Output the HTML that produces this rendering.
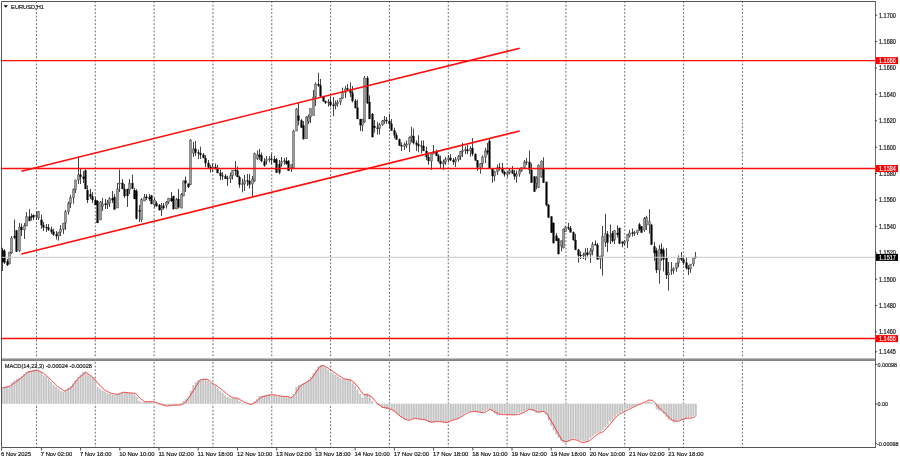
<!DOCTYPE html><html><head><meta charset="utf-8"><title>EURUSD,H1</title><style>html,body{margin:0;padding:0;background:#fff;}svg{display:block;}text{font-family:"Liberation Sans",Arial,sans-serif;}</style></head><body>
<svg width="900" height="460" viewBox="0 0 900 460">
<rect x="0" y="0" width="900" height="460" fill="#fff"/>
<path d="M36.45 2V358M95.28 2V358M154.11 2V358M212.94 2V358M271.77 2V358M330.6 2V358M389.43 2V358M448.26 2V358M507.09 2V358M565.92 2V358M624.75 2V358M683.58 2V358M742.41 2V358" stroke="#666" stroke-width="1" stroke-dasharray="1.84 1.84" stroke-dashoffset="0.92" fill="none"/>
<path d="M36.45 361V447M95.28 361V447M154.11 361V447M212.94 361V447M271.77 361V447M330.6 361V447M389.43 361V447M448.26 361V447M507.09 361V447M565.92 361V447M624.75 361V447M683.58 361V447M742.41 361V447" stroke="#666" stroke-width="1" stroke-dasharray="1.84 1.84" stroke-dashoffset="2.80" fill="none"/>
<path d="M2.50 247.80V271.00M4.50 249.00V264.00M7.50 259.00V266.00M9.50 252.00V264.00M11.50 236.00V254.00M14.50 219.50V239.00M16.50 230.00V252.00M19.50 223.00V252.00M21.50 223.50V236.00M24.50 223.00V239.00M26.50 212.00V226.00M29.50 209.00V221.00M31.50 213.50V220.50M33.50 214.50V220.00M36.50 212.00V220.00M38.50 211.00V220.00M41.50 214.60V228.70M43.50 222.00V231.00M46.50 224.00V232.00M48.50 224.00V231.00M51.50 226.50V234.00M53.50 228.70V236.00M56.50 231.00V239.60M58.50 232.00V240.60M60.50 225.00V236.00M63.50 223.00V234.00M65.50 210.00V230.00M68.50 201.50V214.60M70.50 195.00V208.00M73.50 188.50V203.70M75.50 180.00V193.00M78.50 157.00V184.00M80.50 169.00V184.00M83.50 171.00V183.00M85.50 169.50V189.00M87.50 185.50V203.00M90.50 189.00V199.00M92.50 192.00V203.00M95.50 197.00V205.00M97.50 200.00V223.00M100.50 201.00V220.00M102.50 198.00V211.00M105.50 199.00V209.00M107.50 200.00V209.00M109.50 197.00V207.00M112.50 191.00V203.00M114.50 194.00V209.00M117.50 183.00V199.00M119.50 169.60V192.00M122.50 179.00V189.00M124.50 184.00V198.00M127.50 189.00V207.00M129.50 179.00V194.00M132.50 174.50V189.00M134.50 188.00V195.00M136.50 189.00V219.50M139.50 205.00V222.00M141.50 198.00V222.00M144.50 194.00V201.00M146.50 194.00V200.00M149.50 194.00V201.00M151.50 195.00V204.00M154.50 198.00V207.50M156.50 201.00V206.50M159.50 204.00V210.60M161.50 203.00V216.00M163.50 203.00V209.50M166.50 201.00V208.50M168.50 198.00V204.00M171.50 192.00V202.00M173.50 196.00V209.50M176.50 198.00V208.50M178.50 189.00V208.50M181.50 193.00V208.50M183.50 180.60V196.00M185.50 176.50V192.00M188.50 183.70V188.00M190.50 139.00V185.00M193.50 142.00V157.00M195.50 141.00V156.00M198.50 149.50V159.00M200.50 146.70V159.00M203.50 153.00V158.00M205.50 155.00V167.00M208.50 160.00V168.00M210.50 165.00V172.60M212.50 163.50V172.00M215.50 163.50V169.60M217.50 165.00V173.00M220.50 169.60V180.00M222.50 172.00V180.00M225.50 174.00V178.70M227.50 175.70V186.00M230.50 172.60V183.00M232.50 170.00V179.50M235.50 161.00V175.70M237.50 166.50V177.00M239.50 175.70V187.80M242.50 178.70V192.40M244.50 175.00V191.00M247.50 174.00V186.00M249.50 174.00V188.60M252.50 176.00V196.00M254.50 152.60V182.00M257.50 150.40V160.00M259.50 149.00V160.00M261.50 152.60V162.40M264.50 158.00V166.70M266.50 156.00V164.60M269.50 156.00V162.40M271.50 153.70V164.60M274.50 156.00V162.40M276.50 158.00V173.00M279.50 160.00V174.30M281.50 157.00V166.70M284.50 158.00V164.60M286.50 157.00V164.60M288.50 160.00V171.00M291.50 164.60V172.00M293.50 129.80V169.00M296.50 108.00V131.00M298.50 102.60V125.40M301.50 119.00V127.60M303.50 121.00V139.60M306.50 116.00V139.00M308.50 114.60V124.00M310.50 108.50V123.00M313.50 90.00V115.40M315.50 82.40V106.00M318.50 72.80V86.70M320.50 79.00V97.00M323.50 96.30V101.50M325.50 100.60V104.00M328.50 99.00V106.70M330.50 96.30V106.70M333.50 97.00V116.30M335.50 100.60V109.30M337.50 99.80V106.70M340.50 98.00V105.00M342.50 87.60V99.00M345.50 85.90V98.00M347.50 84.00V91.00M350.50 82.40V97.00M352.50 86.00V102.40M355.50 99.00V108.50M357.50 99.80V119.00M360.50 119.00V131.00M362.50 119.00V131.50M364.50 76.00V123.00M367.50 76.00V104.00M369.50 95.40V119.00M372.50 113.00V137.50M374.50 120.00V132.60M377.50 121.90V134.60M379.50 122.80V134.60M382.50 120.00V125.80M384.50 116.00V123.80M386.50 117.00V123.80M389.50 114.00V128.70M391.50 119.00V130.70M394.50 127.70V138.50M396.50 132.60V139.50M399.50 138.50V146.00M401.50 142.40V151.00M404.50 142.40V150.00M406.50 140.50V148.00M409.50 136.50V152.00M411.50 126.80V142.40M413.50 128.70V144.40M416.50 140.50V151.00M418.50 135.30V152.30M421.50 140.40V153.40M423.50 140.40V151.00M426.50 146.50V160.00M428.50 152.60V164.80M431.50 154.00V170.00M433.50 145.00V154.00M436.50 149.60V155.70M438.50 154.00V162.50M440.50 155.70V168.60M443.50 159.50V170.00M445.50 157.00V164.80M448.50 155.00V162.50M450.50 154.00V161.00M453.50 158.00V164.80M455.50 157.00V167.00M458.50 155.00V161.70M460.50 151.00V160.00M462.50 142.70V157.00M465.50 146.50V154.00M467.50 145.00V154.00M470.50 146.40V156.70M472.50 138.00V156.00M475.50 153.50V160.40M477.50 160.00V170.70M480.50 163.00V173.70M482.50 155.40V167.60M485.50 147.80V163.00M487.50 143.00V154.70M489.50 138.70V169.00M492.50 169.00V182.80M494.50 170.70V181.30M497.50 164.60V175.00M499.50 163.00V170.70M502.50 163.00V173.70M504.50 170.70V176.70M507.50 171.40V177.50M509.50 169.00V174.50M512.50 166.00V173.70M514.50 170.00V179.80M516.50 170.70V182.80M519.50 169.00V176.70M521.50 167.60V172.00M524.50 160.00V167.60M526.50 158.00V165.00M529.50 150.50V174.00M531.50 163.30V182.80M534.50 176.30V192.00M536.50 176.30V189.30M538.50 164.60V188.00M541.50 160.60V177.60M543.50 157.40V182.80M546.50 181.50V206.40M548.50 204.00V217.80M551.50 216.30V233.00M553.50 222.40V243.70M556.50 233.00V240.70M558.50 238.40V254.40M561.50 240.70V251.30M563.50 228.50V248.30M565.50 226.00V231.50M568.50 223.00V230.00M570.50 226.00V232.30M573.50 231.50V240.70M575.50 233.80V249.80M578.50 249.00V262.70M580.50 251.30V259.00M583.50 252.80V259.00M585.50 248.20V260.20M587.50 248.00V256.50M590.50 248.20V263.00M592.50 242.00V255.40M595.50 240.40V245.00M597.50 243.00V260.00M600.50 256.00V269.00M602.50 226.00V275.60M605.50 213.90V247.00M607.50 231.00V252.00M610.50 224.50V244.00M612.50 231.00V242.40M614.50 230.00V244.00M617.50 225.30V237.50M619.50 227.70V244.00M622.50 241.60V247.30M624.50 240.00V245.70M627.50 234.00V248.00M629.50 230.00V237.50M632.50 228.50V236.70M634.50 231.00V236.00M637.50 230.00V235.00M639.50 222.80V231.00M641.50 226.00V232.60M644.50 217.00V231.80M646.50 215.70V230.00M649.50 209.20V233.70M651.50 223.80V245.20M654.50 242.00V260.70M656.50 247.80V273.00M659.50 245.00V283.70M661.50 243.40V261.00M663.50 247.60V271.50M666.50 248.20V279.00M668.50 262.00V290.60M671.50 262.00V275.00M673.50 267.40V274.00M676.50 263.00V271.70M678.50 255.40V267.40M681.50 252.00V261.00M683.50 256.50V265.00M686.50 257.60V269.60M688.50 265.00V275.00M690.50 264.00V272.80M693.50 257.60V266.30M695.50 252.00V258.70" stroke="#222" stroke-width="0.85" fill="none"/>
<path d="M8.60 252.00h1.8V264.00h-1.8zM10.60 238.00h1.8V253.00h-1.8zM18.60 227.00h1.8V250.50h-1.8zM23.60 225.50h1.8V230.00h-1.8zM25.60 216.50h1.8V226.00h-1.8zM35.60 215.65h1.8V216.38h-1.8zM37.60 211.50h1.8V218.00h-1.8zM57.60 232.24h1.8V236.00h-1.8zM59.60 229.10h1.8V232.24h-1.8zM62.60 223.00h1.8V229.10h-1.8zM64.60 211.63h1.8V223.00h-1.8zM67.60 203.46h1.8V211.63h-1.8zM69.60 197.72h1.8V203.46h-1.8zM72.60 189.38h1.8V197.72h-1.8zM74.60 180.00h1.8V189.38h-1.8zM77.60 174.70h1.8V180.00h-1.8zM99.60 202.00h1.8V220.00h-1.8zM101.60 204.15h1.8V206.30h-1.8zM106.60 202.75h1.8V204.35h-1.8zM108.60 198.50h1.8V202.75h-1.8zM116.60 189.00h1.8V208.00h-1.8zM118.60 183.04h1.8V183.86h-1.8zM128.60 183.17h1.8V189.95h-1.8zM140.60 199.50h1.8V219.50h-1.8zM143.60 197.15h1.8V201.00h-1.8zM153.60 200.00h1.8V205.00h-1.8zM160.60 207.70h1.8V210.00h-1.8zM165.60 202.12h1.8V205.20h-1.8zM167.60 198.20h1.8V202.12h-1.8zM175.60 199.40h1.8V209.00h-1.8zM180.60 194.50h1.8V208.00h-1.8zM182.60 181.00h1.8V196.00h-1.8zM189.60 140.00h1.8V184.50h-1.8zM192.60 148.80h1.8V153.25h-1.8zM211.60 166.91h1.8V168.06h-1.8zM229.60 175.66h1.8V178.71h-1.8zM231.60 170.27h1.8V175.66h-1.8zM241.60 183.76h1.8V184.41h-1.8zM243.60 180.90h1.8V183.76h-1.8zM251.60 179.00h1.8V184.00h-1.8zM253.60 153.50h1.8V181.00h-1.8zM256.60 154.71h1.8V158.83h-1.8zM265.60 159.53h1.8V160.91h-1.8zM268.60 158.86h1.8V159.83h-1.8zM280.60 161.47h1.8V163.44h-1.8zM283.60 160.65h1.8V161.77h-1.8zM290.60 164.60h1.8V167.46h-1.8zM292.60 131.00h1.8V168.00h-1.8zM295.60 109.00h1.8V131.00h-1.8zM305.60 117.00h1.8V138.50h-1.8zM307.60 116.81h1.8V121.76h-1.8zM309.60 108.50h1.8V116.81h-1.8zM312.60 97.00h1.8V115.50h-1.8zM314.60 84.08h1.8V96.75h-1.8zM327.60 101.91h1.8V102.68h-1.8zM334.60 103.76h1.8V105.46h-1.8zM336.60 102.02h1.8V103.76h-1.8zM339.60 98.00h1.8V102.02h-1.8zM341.60 92.35h1.8V98.00h-1.8zM344.60 88.83h1.8V92.35h-1.8zM361.60 119.00h1.8V125.17h-1.8zM363.60 78.00h1.8V122.00h-1.8zM378.60 124.64h1.8V128.56h-1.8zM381.60 120.80h1.8V124.64h-1.8zM383.60 119.95h1.8V121.10h-1.8zM403.60 144.83h1.8V146.35h-1.8zM405.60 143.95h1.8V145.13h-1.8zM408.60 137.49h1.8V144.25h-1.8zM410.60 135.97h1.8V137.49h-1.8zM430.60 154.00h1.8V161.01h-1.8zM432.60 151.70h1.8V154.00h-1.8zM442.60 162.06h1.8V163.97h-1.8zM444.60 159.40h1.8V162.06h-1.8zM447.60 157.88h1.8V159.40h-1.8zM454.60 159.44h1.8V161.82h-1.8zM457.60 156.35h1.8V159.44h-1.8zM459.60 151.54h1.8V156.35h-1.8zM461.60 150.13h1.8V151.54h-1.8zM464.60 149.42h1.8V150.43h-1.8zM469.60 148.37h1.8V150.94h-1.8zM479.60 163.56h1.8V167.45h-1.8zM481.60 157.23h1.8V163.56h-1.8zM484.60 150.81h1.8V157.23h-1.8zM493.60 171.66h1.8V175.97h-1.8zM496.60 167.73h1.8V171.66h-1.8zM506.60 172.56h1.8V174.22h-1.8zM508.60 170.42h1.8V172.56h-1.8zM515.60 174.02h1.8V176.19h-1.8zM518.60 170.72h1.8V174.02h-1.8zM520.60 167.60h1.8V170.72h-1.8zM523.60 162.19h1.8V167.60h-1.8zM525.60 161.72h1.8V162.49h-1.8zM535.60 178.25h1.8V183.20h-1.8zM537.60 165.00h1.8V187.50h-1.8zM540.60 161.00h1.8V177.00h-1.8zM560.60 240.70h1.8V246.12h-1.8zM562.60 229.00h1.8V248.00h-1.8zM564.60 227.17h1.8V231.50h-1.8zM582.60 254.71h1.8V255.68h-1.8zM584.60 252.83h1.8V254.71h-1.8zM589.60 250.77h1.8V254.59h-1.8zM591.60 244.50h1.8V250.77h-1.8zM599.60 256.00h1.8V259.20h-1.8zM601.60 236.55h1.8V256.00h-1.8zM604.60 233.50h1.8V242.00h-1.8zM609.60 235.66h1.8V236.73h-1.8zM613.60 230.50h1.8V239.80h-1.8zM623.60 241.55h1.8V243.33h-1.8zM626.60 234.30h1.8V241.00h-1.8zM628.60 232.94h1.8V235.93h-1.8zM633.60 232.50h1.8V233.53h-1.8zM636.60 230.00h1.8V232.80h-1.8zM643.60 218.50h1.8V230.00h-1.8zM645.60 217.50h1.8V225.00h-1.8zM648.60 221.50h1.8V224.50h-1.8zM658.60 249.00h1.8V270.00h-1.8zM667.60 272.50h1.8V275.00h-1.8zM670.60 270.04h1.8V270.84h-1.8zM672.60 268.36h1.8V270.04h-1.8zM675.60 263.18h1.8V268.36h-1.8zM677.60 257.97h1.8V263.18h-1.8zM689.60 264.00h1.8V268.88h-1.8zM692.60 257.60h1.8V264.00h-1.8zM694.60 256.80h1.8V257.60h-1.8z" fill="#a8a8a8" stroke="#2a2a2a" stroke-width="0.5"/>
<path d="M1.60 250.00h1.8V262.00h-1.8zM3.60 251.00h1.8V262.50h-1.8zM6.60 261.50h1.8V265.00h-1.8zM13.60 236.00h1.8V237.47h-1.8zM15.60 230.50h1.8V251.50h-1.8zM20.60 227.00h1.8V230.00h-1.8zM28.60 216.70h1.8V221.00h-1.8zM30.60 216.40h1.8V217.17h-1.8zM32.60 215.00h1.8V217.20h-1.8zM40.60 219.80h1.8V225.04h-1.8zM42.60 225.04h1.8V227.55h-1.8zM45.60 227.25h1.8V227.95h-1.8zM47.60 227.65h1.8V229.42h-1.8zM50.60 229.42h1.8V231.72h-1.8zM52.60 231.72h1.8V234.42h-1.8zM55.60 234.42h1.8V236.00h-1.8zM79.60 174.70h1.8V176.85h-1.8zM82.60 176.85h1.8V178.57h-1.8zM84.60 170.50h1.8V189.00h-1.8zM86.60 190.00h1.8V200.00h-1.8zM89.60 194.07h1.8V196.45h-1.8zM91.60 196.45h1.8V199.95h-1.8zM94.60 199.95h1.8V205.00h-1.8zM96.60 201.00h1.8V223.00h-1.8zM104.60 203.85h1.8V204.65h-1.8zM111.60 198.50h1.8V200.15h-1.8zM113.60 197.00h1.8V209.50h-1.8zM121.60 183.04h1.8V188.90h-1.8zM123.60 188.90h1.8V195.90h-1.8zM126.60 189.00h1.8V196.00h-1.8zM131.60 183.17h1.8V188.57h-1.8zM133.60 190.00h1.8V199.00h-1.8zM135.60 191.00h1.8V218.50h-1.8zM138.60 210.42h1.8V211.35h-1.8zM145.60 196.85h1.8V197.65h-1.8zM148.60 197.35h1.8V198.90h-1.8zM150.60 195.50h1.8V204.00h-1.8zM155.60 203.45h1.8V206.23h-1.8zM158.60 205.00h1.8V210.00h-1.8zM162.60 205.70h1.8V208.00h-1.8zM170.60 198.20h1.8V201.02h-1.8zM172.60 196.00h1.8V209.00h-1.8zM177.60 199.00h1.8V207.20h-1.8zM184.60 180.50h1.8V183.20h-1.8zM187.60 183.70h1.8V187.00h-1.8zM194.60 148.80h1.8V152.52h-1.8zM197.60 152.52h1.8V153.27h-1.8zM199.60 153.27h1.8V154.70h-1.8zM202.60 154.70h1.8V158.00h-1.8zM204.60 158.00h1.8V163.10h-1.8zM207.60 163.10h1.8V167.36h-1.8zM209.60 167.36h1.8V168.06h-1.8zM214.60 166.91h1.8V168.26h-1.8zM216.60 168.26h1.8V173.00h-1.8zM219.60 173.00h1.8V175.64h-1.8zM221.60 175.64h1.8V176.25h-1.8zM224.60 176.25h1.8V178.70h-1.8zM226.60 178.40h1.8V179.01h-1.8zM234.60 169.97h1.8V171.03h-1.8zM236.60 170.73h1.8V177.00h-1.8zM238.60 177.00h1.8V184.41h-1.8zM246.60 180.60h1.8V181.21h-1.8zM248.60 180.91h1.8V184.59h-1.8zM258.60 154.71h1.8V156.60h-1.8zM260.60 155.60h1.8V161.00h-1.8zM263.60 161.50h1.8V165.40h-1.8zM270.60 158.86h1.8V159.48h-1.8zM273.60 159.18h1.8V162.40h-1.8zM275.60 159.60h1.8V172.60h-1.8zM278.60 164.00h1.8V172.60h-1.8zM285.60 160.95h1.8V164.09h-1.8zM287.60 161.00h1.8V170.70h-1.8zM297.60 115.65h1.8V120.51h-1.8zM300.60 120.51h1.8V127.60h-1.8zM302.60 125.50h1.8V139.00h-1.8zM317.60 84.08h1.8V85.52h-1.8zM319.60 85.52h1.8V96.30h-1.8zM322.60 96.30h1.8V101.28h-1.8zM324.60 101.28h1.8V102.68h-1.8zM329.60 101.91h1.8V105.11h-1.8zM332.60 104.81h1.8V105.76h-1.8zM346.60 88.53h1.8V89.34h-1.8zM349.60 89.04h1.8V92.85h-1.8zM351.60 92.85h1.8V100.89h-1.8zM354.60 100.89h1.8V107.70h-1.8zM356.60 107.70h1.8V119.00h-1.8zM359.60 119.00h1.8V125.17h-1.8zM366.60 78.00h1.8V103.00h-1.8zM368.60 102.04h1.8V119.00h-1.8zM371.60 114.00h1.8V137.00h-1.8zM373.60 125.98h1.8V127.66h-1.8zM376.60 127.66h1.8V128.56h-1.8zM385.60 120.25h1.8V121.06h-1.8zM388.60 121.06h1.8V123.80h-1.8zM390.60 123.80h1.8V130.62h-1.8zM393.60 130.62h1.8V135.16h-1.8zM395.60 135.16h1.8V139.50h-1.8zM398.60 139.50h1.8V145.36h-1.8zM400.60 145.36h1.8V146.35h-1.8zM412.60 135.97h1.8V142.99h-1.8zM415.60 142.99h1.8V144.38h-1.8zM417.60 144.38h1.8V145.97h-1.8zM420.60 145.67h1.8V146.36h-1.8zM422.60 146.06h1.8V150.98h-1.8zM425.60 150.98h1.8V157.06h-1.8zM427.60 157.06h1.8V161.01h-1.8zM435.60 151.70h1.8V155.70h-1.8zM437.60 155.70h1.8V160.98h-1.8zM439.60 160.98h1.8V163.97h-1.8zM449.60 157.88h1.8V160.23h-1.8zM452.60 160.23h1.8V161.82h-1.8zM466.60 149.72h1.8V150.94h-1.8zM471.60 148.37h1.8V153.96h-1.8zM474.60 153.96h1.8V160.40h-1.8zM476.60 160.40h1.8V167.45h-1.8zM486.60 150.81h1.8V152.35h-1.8zM488.60 141.00h1.8V168.00h-1.8zM491.60 169.00h1.8V175.97h-1.8zM498.60 167.43h1.8V168.20h-1.8zM501.60 167.90h1.8V172.09h-1.8zM503.60 172.09h1.8V174.22h-1.8zM511.60 170.42h1.8V173.38h-1.8zM513.60 173.38h1.8V176.19h-1.8zM528.60 162.02h1.8V169.81h-1.8zM530.60 170.00h1.8V182.50h-1.8zM533.60 176.50h1.8V191.50h-1.8zM542.60 168.50h1.8V182.50h-1.8zM545.60 182.00h1.8V205.00h-1.8zM547.60 205.00h1.8V217.50h-1.8zM550.60 216.50h1.8V232.50h-1.8zM552.60 223.00h1.8V243.00h-1.8zM555.60 235.71h1.8V240.70h-1.8zM557.60 238.50h1.8V254.00h-1.8zM567.60 227.17h1.8V228.36h-1.8zM569.60 228.36h1.8V232.30h-1.8zM572.60 232.30h1.8V240.09h-1.8zM574.60 240.09h1.8V249.80h-1.8zM577.60 249.80h1.8V255.36h-1.8zM579.60 255.06h1.8V255.98h-1.8zM586.60 252.83h1.8V254.59h-1.8zM594.60 244.20h1.8V245.30h-1.8zM596.60 245.00h1.8V259.20h-1.8zM606.60 234.30h1.8V242.50h-1.8zM611.60 233.30h1.8V241.00h-1.8zM616.60 233.08h1.8V234.51h-1.8zM618.60 228.00h1.8V243.50h-1.8zM621.60 241.87h1.8V243.33h-1.8zM631.60 232.64h1.8V233.53h-1.8zM638.60 224.50h1.8V229.30h-1.8zM640.60 226.50h1.8V232.60h-1.8zM650.60 225.00h1.8V244.50h-1.8zM653.60 246.40h1.8V253.00h-1.8zM655.60 250.60h1.8V270.00h-1.8zM660.60 249.00h1.8V253.50h-1.8zM662.60 250.00h1.8V259.50h-1.8zM665.60 258.00h1.8V275.00h-1.8zM680.60 257.97h1.8V259.47h-1.8zM682.60 259.47h1.8V262.75h-1.8zM685.60 262.75h1.8V268.08h-1.8zM687.60 268.08h1.8V268.88h-1.8z" fill="#000" stroke="#000" stroke-width="0.3"/>
<polygon points="0.93,403.7 0.93,389.11 3.33,389.11 3.38,387.19 5.78,387.19 5.83,386.67 8.23,386.67 8.29,386.59 10.69,386.59 10.74,382.58 13.14,382.58 13.19,380.81 15.59,380.81 15.64,379.36 18.04,379.36 18.09,378.09 20.49,378.09 20.54,376.59 22.94,376.59 22.99,374.20 25.39,374.20 25.44,372.24 27.84,372.24 27.90,371.07 30.30,371.07 30.35,370.58 32.75,370.58 32.80,369.78 35.20,369.78 35.25,369.78 37.65,369.78 37.70,370.56 40.10,370.56 40.15,372.03 42.55,372.03 42.60,375.43 45.00,375.43 45.06,376.78 47.46,376.78 47.51,378.74 49.91,378.74 49.96,381.73 52.36,381.73 52.41,384.67 54.81,384.67 54.86,386.63 57.26,386.63 57.31,389.03 59.71,389.03 59.76,390.99 62.16,390.99 62.21,391.63 64.61,391.63 64.67,390.65 67.07,390.65 67.12,387.80 69.52,387.80 69.57,386.32 71.97,386.32 72.02,383.48 74.42,383.48 74.47,380.06 76.87,380.06 76.92,376.93 79.32,376.93 79.37,374.43 81.77,374.43 81.82,371.98 84.22,371.98 84.28,371.67 86.68,371.67 86.73,374.53 89.13,374.53 89.18,376.00 91.58,376.00 91.63,377.81 94.03,377.81 94.08,379.28 96.48,379.28 96.53,387.06 98.93,387.06 98.98,389.15 101.38,389.15 101.44,390.48 103.84,390.48 103.89,391.94 106.29,391.94 106.34,393.21 108.74,393.21 108.79,393.78 111.19,393.78 111.24,394.83 113.64,394.83 113.69,395.25 116.09,395.25 116.14,394.62 118.54,394.62 118.59,393.23 120.99,393.23 121.05,392.36 123.45,392.36 123.50,392.22 125.90,392.22 125.95,392.54 128.35,392.54 128.40,393.09 130.80,393.09 130.85,393.33 133.25,393.33 133.30,394.50 135.70,394.50 135.75,397.30 138.15,397.30 138.20,400.77 140.60,400.77 140.66,401.89 143.06,401.89 143.11,401.82 145.51,401.82 145.56,401.67 147.96,401.67 148.01,401.67 150.41,401.67 150.46,401.67 152.86,401.67 152.91,402.20 155.31,402.20 155.36,403.28 157.76,403.28 157.81,404.38 160.21,404.38 160.27,405.11 162.67,405.11 162.72,405.33 165.12,405.33 165.17,405.33 167.57,405.33 167.62,405.33 170.02,405.33 170.07,405.33 172.47,405.33 172.52,405.27 174.92,405.27 174.97,405.18 177.37,405.18 177.43,404.86 179.83,404.86 179.88,403.37 182.28,403.37 182.33,400.96 184.73,400.96 184.78,398.99 187.18,398.99 187.23,397.03 189.63,397.03 189.68,390.69 192.08,390.69 192.13,385.00 194.53,385.00 194.58,382.06 196.98,382.06 197.04,380.07 199.44,380.07 199.49,379.41 201.89,379.41 201.94,378.89 204.34,378.89 204.39,379.24 206.79,379.24 206.84,380.77 209.24,380.77 209.29,382.73 211.69,382.73 211.74,384.51 214.14,384.51 214.19,385.49 216.59,385.49 216.65,388.40 219.05,388.40 219.10,390.85 221.50,390.85 221.55,392.76 223.95,392.76 224.00,395.16 226.40,395.16 226.45,397.12 228.85,397.12 228.90,397.80 231.30,397.80 231.35,398.29 233.75,398.29 233.81,398.33 236.21,398.33 236.26,398.82 238.66,398.82 238.71,401.02 241.11,401.02 241.16,403.00 243.56,403.00 243.61,403.98 246.01,403.98 246.06,404.34 248.46,404.34 248.51,404.39 250.91,404.39 250.96,404.23 253.36,404.23 253.42,401.50 255.82,401.50 255.87,399.04 258.27,399.04 258.32,396.11 260.72,396.11 260.77,396.11 263.17,396.11 263.22,395.56 265.62,395.56 265.67,395.36 268.07,395.36 268.12,394.70 270.52,394.70 270.57,394.95 272.97,394.95 273.03,395.00 275.43,395.00 275.48,396.11 277.88,396.11 277.93,396.41 280.33,396.41 280.38,396.66 282.78,396.66 282.83,396.67 285.23,396.67 285.28,396.67 287.68,396.67 287.73,397.22 290.13,397.22 290.19,397.22 292.59,397.22 292.64,394.51 295.04,394.51 295.09,387.08 297.49,387.08 297.54,385.12 299.94,385.12 299.99,384.40 302.39,384.40 302.44,383.15 304.84,383.15 304.89,381.68 307.29,381.68 307.34,379.75 309.74,379.75 309.80,376.81 312.20,376.81 312.25,373.17 314.65,373.17 314.70,369.74 317.10,369.74 317.15,366.10 319.55,366.10 319.60,365.12 322.00,365.12 322.05,365.00 324.45,365.00 324.50,367.37 326.90,367.37 326.95,369.82 329.35,369.82 329.41,372.24 331.81,372.24 331.86,373.22 334.26,373.22 334.31,374.96 336.71,374.96 336.76,376.44 339.16,376.44 339.21,378.23 341.61,378.23 341.66,378.91 344.06,378.91 344.11,379.40 346.51,379.40 346.57,378.89 348.97,378.89 349.02,379.86 351.42,379.86 351.47,382.64 353.87,382.64 353.92,385.59 356.32,385.59 356.37,389.64 358.77,389.64 358.82,394.04 361.22,394.04 361.27,397.40 363.67,397.40 363.72,394.56 366.12,394.56 366.18,393.52 368.58,393.52 368.63,396.46 371.03,396.46 371.08,401.17 373.48,401.17 373.53,403.62 375.93,403.62 375.98,404.88 378.38,404.88 378.43,405.99 380.83,405.99 380.88,407.40 383.28,407.40 383.33,408.57 385.73,408.57 385.79,408.76 388.19,408.76 388.24,408.69 390.64,408.69 390.69,409.47 393.09,409.47 393.14,411.36 395.54,411.36 395.59,413.46 397.99,413.46 398.04,415.73 400.44,415.73 400.49,417.66 402.89,417.66 402.94,419.17 405.34,419.17 405.40,419.79 407.80,419.79 407.85,419.64 410.25,419.64 410.30,418.78 412.70,418.78 412.75,418.49 415.15,418.49 415.20,418.50 417.60,418.50 417.65,418.89 420.05,418.89 420.10,419.00 422.50,419.00 422.56,419.50 424.96,419.50 425.01,420.49 427.41,420.49 427.46,422.02 429.86,422.02 429.91,422.64 432.31,422.64 432.36,422.00 434.76,422.00 434.81,421.44 437.21,421.44 437.26,421.50 439.66,421.50 439.71,421.76 442.11,421.76 442.17,422.31 444.57,422.31 444.62,422.46 447.02,422.46 447.07,421.85 449.47,421.85 449.52,420.41 451.92,420.41 451.97,419.90 454.37,419.90 454.42,419.32 456.82,419.32 456.87,418.67 459.27,418.67 459.32,416.80 461.72,416.80 461.78,414.85 464.18,414.85 464.23,413.08 466.63,413.08 466.68,411.64 469.08,411.64 469.13,411.11 471.53,411.11 471.58,411.11 473.98,411.11 474.03,411.46 476.43,411.46 476.48,411.66 478.88,411.66 478.94,412.15 481.34,412.15 481.39,412.04 483.79,412.04 483.84,411.20 486.24,411.20 486.29,409.52 488.69,409.52 488.74,408.89 491.14,408.89 491.19,410.17 493.59,410.17 493.64,413.38 496.04,413.38 496.09,414.44 498.49,414.44 498.55,414.44 500.95,414.44 501.00,414.12 503.40,414.12 503.45,413.89 505.85,413.89 505.90,414.20 508.30,414.20 508.35,414.44 510.75,414.44 510.80,414.44 513.20,414.44 513.25,414.16 515.65,414.16 515.70,413.62 518.10,413.62 518.16,413.08 520.56,413.08 520.61,412.28 523.01,412.28 523.06,411.20 525.46,411.20 525.51,409.69 527.91,409.69 527.96,408.89 530.36,408.89 530.41,409.68 532.81,409.68 532.86,411.33 535.26,411.33 535.32,412.46 537.72,412.46 537.77,412.30 540.17,412.30 540.22,411.45 542.62,411.45 542.67,411.77 545.07,411.77 545.12,414.50 547.52,414.50 547.57,420.51 549.97,420.51 550.02,425.85 552.42,425.85 552.47,430.13 554.87,430.13 554.93,434.35 557.33,434.35 557.38,437.87 559.78,437.87 559.83,440.82 562.23,440.82 562.28,442.40 564.68,442.40 564.73,442.59 567.13,442.59 567.18,441.62 569.58,441.62 569.63,439.58 572.03,439.58 572.08,438.68 574.48,438.68 574.54,438.70 576.94,438.70 576.99,440.41 579.39,440.41 579.44,440.47 581.84,440.47 581.89,441.48 584.29,441.48 584.34,441.67 586.74,441.67 586.79,440.73 589.19,440.73 589.24,437.92 591.64,437.92 591.70,435.91 594.10,435.91 594.15,434.05 596.55,434.05 596.60,432.77 599.00,432.77 599.05,431.79 601.45,431.79 601.50,430.06 603.90,430.06 603.95,427.07 606.35,427.07 606.40,424.62 608.80,424.62 608.85,421.62 611.25,421.62 611.31,419.66 613.71,419.66 613.76,417.27 616.16,417.27 616.21,414.81 618.61,414.81 618.66,412.88 621.06,412.88 621.11,411.85 623.51,411.85 623.56,410.67 625.96,410.67 626.01,408.90 628.41,408.90 628.46,407.91 630.86,407.91 630.92,407.25 633.32,407.25 633.37,406.28 635.77,406.28 635.82,405.10 638.22,405.10 638.27,404.55 640.67,404.55 640.72,403.96 643.12,403.96 643.17,403.46 645.57,403.46 645.62,401.97 648.02,401.97 648.07,401.15 650.48,401.15 650.53,402.17 652.93,402.17 652.98,404.61 655.38,404.61 655.43,409.34 657.83,409.34 657.88,410.42 660.28,410.42 660.33,411.14 662.73,411.14 662.78,413.98 665.18,413.98 665.23,416.64 667.63,416.64 667.69,419.67 670.09,419.67 670.14,420.47 672.54,420.47 672.59,422.42 674.99,422.42 675.04,420.95 677.44,420.95 677.49,420.00 679.89,420.00 679.94,420.00 682.34,420.00 682.39,419.72 684.79,419.72 684.84,418.21 687.24,418.21 687.30,417.83 689.70,417.83 689.75,416.93 692.15,416.93 692.20,415.87 694.60,415.87 694.65,414.62 697.05,414.62 697.05,403.7" fill="#e6e6e6"/>
<path d="M1.38 389.11h1.5V403.70h-1.5zM3.83 387.19h1.5V403.70h-1.5zM6.28 386.67h1.5V403.70h-1.5zM8.74 386.59h1.5V403.70h-1.5zM11.19 382.58h1.5V403.70h-1.5zM13.64 380.81h1.5V403.70h-1.5zM16.09 379.36h1.5V403.70h-1.5zM18.54 378.09h1.5V403.70h-1.5zM20.99 376.59h1.5V403.70h-1.5zM23.44 374.20h1.5V403.70h-1.5zM25.89 372.24h1.5V403.70h-1.5zM28.35 371.07h1.5V403.70h-1.5zM30.80 370.58h1.5V403.70h-1.5zM33.25 369.78h1.5V403.70h-1.5zM35.70 369.78h1.5V403.70h-1.5zM38.15 370.56h1.5V403.70h-1.5zM40.60 372.03h1.5V403.70h-1.5zM43.05 375.43h1.5V403.70h-1.5zM45.51 376.78h1.5V403.70h-1.5zM47.96 378.74h1.5V403.70h-1.5zM50.41 381.73h1.5V403.70h-1.5zM52.86 384.67h1.5V403.70h-1.5zM55.31 386.63h1.5V403.70h-1.5zM57.76 389.03h1.5V403.70h-1.5zM60.21 390.99h1.5V403.70h-1.5zM62.66 391.63h1.5V403.70h-1.5zM65.12 390.65h1.5V403.70h-1.5zM67.57 387.80h1.5V403.70h-1.5zM70.02 386.32h1.5V403.70h-1.5zM72.47 383.48h1.5V403.70h-1.5zM74.92 380.06h1.5V403.70h-1.5zM77.37 376.93h1.5V403.70h-1.5zM79.82 374.43h1.5V403.70h-1.5zM82.27 371.98h1.5V403.70h-1.5zM84.73 371.67h1.5V403.70h-1.5zM87.18 374.53h1.5V403.70h-1.5zM89.63 376.00h1.5V403.70h-1.5zM92.08 377.81h1.5V403.70h-1.5zM94.53 379.28h1.5V403.70h-1.5zM96.98 387.06h1.5V403.70h-1.5zM99.43 389.15h1.5V403.70h-1.5zM101.89 390.48h1.5V403.70h-1.5zM104.34 391.94h1.5V403.70h-1.5zM106.79 393.21h1.5V403.70h-1.5zM109.24 393.78h1.5V403.70h-1.5zM111.69 394.83h1.5V403.70h-1.5zM114.14 395.25h1.5V403.70h-1.5zM116.59 394.62h1.5V403.70h-1.5zM119.04 393.23h1.5V403.70h-1.5zM121.50 392.36h1.5V403.70h-1.5zM123.95 392.22h1.5V403.70h-1.5zM126.40 392.54h1.5V403.70h-1.5zM128.85 393.09h1.5V403.70h-1.5zM131.30 393.33h1.5V403.70h-1.5zM133.75 394.50h1.5V403.70h-1.5zM136.20 397.30h1.5V403.70h-1.5zM138.65 400.77h1.5V403.70h-1.5zM141.11 401.89h1.5V403.70h-1.5zM143.56 401.82h1.5V403.70h-1.5zM146.01 401.67h1.5V403.70h-1.5zM148.46 401.67h1.5V403.70h-1.5zM150.91 401.67h1.5V403.70h-1.5zM153.36 402.20h1.5V403.70h-1.5zM155.81 403.28h1.5V403.70h-1.5zM158.26 403.70h1.5V404.38h-1.5zM160.72 403.70h1.5V405.11h-1.5zM163.17 403.70h1.5V405.33h-1.5zM165.62 403.70h1.5V405.33h-1.5zM168.07 403.70h1.5V405.33h-1.5zM170.52 403.70h1.5V405.33h-1.5zM172.97 403.70h1.5V405.27h-1.5zM175.42 403.70h1.5V405.18h-1.5zM177.88 403.70h1.5V404.86h-1.5zM180.33 403.37h1.5V403.70h-1.5zM182.78 400.96h1.5V403.70h-1.5zM185.23 398.99h1.5V403.70h-1.5zM187.68 397.03h1.5V403.70h-1.5zM190.13 390.69h1.5V403.70h-1.5zM192.58 385.00h1.5V403.70h-1.5zM195.03 382.06h1.5V403.70h-1.5zM197.49 380.07h1.5V403.70h-1.5zM199.94 379.41h1.5V403.70h-1.5zM202.39 378.89h1.5V403.70h-1.5zM204.84 379.24h1.5V403.70h-1.5zM207.29 380.77h1.5V403.70h-1.5zM209.74 382.73h1.5V403.70h-1.5zM212.19 384.51h1.5V403.70h-1.5zM214.64 385.49h1.5V403.70h-1.5zM217.10 388.40h1.5V403.70h-1.5zM219.55 390.85h1.5V403.70h-1.5zM222.00 392.76h1.5V403.70h-1.5zM224.45 395.16h1.5V403.70h-1.5zM226.90 397.12h1.5V403.70h-1.5zM229.35 397.80h1.5V403.70h-1.5zM231.80 398.29h1.5V403.70h-1.5zM234.26 398.33h1.5V403.70h-1.5zM236.71 398.82h1.5V403.70h-1.5zM239.16 401.02h1.5V403.70h-1.5zM241.61 403.00h1.5V403.70h-1.5zM244.06 403.70h1.5V403.98h-1.5zM246.51 403.70h1.5V404.34h-1.5zM248.96 403.70h1.5V404.39h-1.5zM251.41 403.70h1.5V404.23h-1.5zM253.87 401.50h1.5V403.70h-1.5zM256.32 399.04h1.5V403.70h-1.5zM258.77 396.11h1.5V403.70h-1.5zM261.22 396.11h1.5V403.70h-1.5zM263.67 395.56h1.5V403.70h-1.5zM266.12 395.36h1.5V403.70h-1.5zM268.57 394.70h1.5V403.70h-1.5zM271.02 394.95h1.5V403.70h-1.5zM273.48 395.00h1.5V403.70h-1.5zM275.93 396.11h1.5V403.70h-1.5zM278.38 396.41h1.5V403.70h-1.5zM280.83 396.66h1.5V403.70h-1.5zM283.28 396.67h1.5V403.70h-1.5zM285.73 396.67h1.5V403.70h-1.5zM288.18 397.22h1.5V403.70h-1.5zM290.64 397.22h1.5V403.70h-1.5zM293.09 394.51h1.5V403.70h-1.5zM295.54 387.08h1.5V403.70h-1.5zM297.99 385.12h1.5V403.70h-1.5zM300.44 384.40h1.5V403.70h-1.5zM302.89 383.15h1.5V403.70h-1.5zM305.34 381.68h1.5V403.70h-1.5zM307.79 379.75h1.5V403.70h-1.5zM310.25 376.81h1.5V403.70h-1.5zM312.70 373.17h1.5V403.70h-1.5zM315.15 369.74h1.5V403.70h-1.5zM317.60 366.10h1.5V403.70h-1.5zM320.05 365.12h1.5V403.70h-1.5zM322.50 365.00h1.5V403.70h-1.5zM324.95 367.37h1.5V403.70h-1.5zM327.40 369.82h1.5V403.70h-1.5zM329.86 372.24h1.5V403.70h-1.5zM332.31 373.22h1.5V403.70h-1.5zM334.76 374.96h1.5V403.70h-1.5zM337.21 376.44h1.5V403.70h-1.5zM339.66 378.23h1.5V403.70h-1.5zM342.11 378.91h1.5V403.70h-1.5zM344.56 379.40h1.5V403.70h-1.5zM347.02 378.89h1.5V403.70h-1.5zM349.47 379.86h1.5V403.70h-1.5zM351.92 382.64h1.5V403.70h-1.5zM354.37 385.59h1.5V403.70h-1.5zM356.82 389.64h1.5V403.70h-1.5zM359.27 394.04h1.5V403.70h-1.5zM361.72 397.40h1.5V403.70h-1.5zM364.17 394.56h1.5V403.70h-1.5zM366.63 393.52h1.5V403.70h-1.5zM369.08 396.46h1.5V403.70h-1.5zM371.53 401.17h1.5V403.70h-1.5zM373.98 403.62h1.5V403.70h-1.5zM376.43 403.70h1.5V404.88h-1.5zM378.88 403.70h1.5V405.99h-1.5zM381.33 403.70h1.5V407.40h-1.5zM383.78 403.70h1.5V408.57h-1.5zM386.24 403.70h1.5V408.76h-1.5zM388.69 403.70h1.5V408.69h-1.5zM391.14 403.70h1.5V409.47h-1.5zM393.59 403.70h1.5V411.36h-1.5zM396.04 403.70h1.5V413.46h-1.5zM398.49 403.70h1.5V415.73h-1.5zM400.94 403.70h1.5V417.66h-1.5zM403.39 403.70h1.5V419.17h-1.5zM405.85 403.70h1.5V419.79h-1.5zM408.30 403.70h1.5V419.64h-1.5zM410.75 403.70h1.5V418.78h-1.5zM413.20 403.70h1.5V418.49h-1.5zM415.65 403.70h1.5V418.50h-1.5zM418.10 403.70h1.5V418.89h-1.5zM420.55 403.70h1.5V419.00h-1.5zM423.01 403.70h1.5V419.50h-1.5zM425.46 403.70h1.5V420.49h-1.5zM427.91 403.70h1.5V422.02h-1.5zM430.36 403.70h1.5V422.64h-1.5zM432.81 403.70h1.5V422.00h-1.5zM435.26 403.70h1.5V421.44h-1.5zM437.71 403.70h1.5V421.50h-1.5zM440.16 403.70h1.5V421.76h-1.5zM442.62 403.70h1.5V422.31h-1.5zM445.07 403.70h1.5V422.46h-1.5zM447.52 403.70h1.5V421.85h-1.5zM449.97 403.70h1.5V420.41h-1.5zM452.42 403.70h1.5V419.90h-1.5zM454.87 403.70h1.5V419.32h-1.5zM457.32 403.70h1.5V418.67h-1.5zM459.77 403.70h1.5V416.80h-1.5zM462.23 403.70h1.5V414.85h-1.5zM464.68 403.70h1.5V413.08h-1.5zM467.13 403.70h1.5V411.64h-1.5zM469.58 403.70h1.5V411.11h-1.5zM472.03 403.70h1.5V411.11h-1.5zM474.48 403.70h1.5V411.46h-1.5zM476.93 403.70h1.5V411.66h-1.5zM479.39 403.70h1.5V412.15h-1.5zM481.84 403.70h1.5V412.04h-1.5zM484.29 403.70h1.5V411.20h-1.5zM486.74 403.70h1.5V409.52h-1.5zM489.19 403.70h1.5V408.89h-1.5zM491.64 403.70h1.5V410.17h-1.5zM494.09 403.70h1.5V413.38h-1.5zM496.54 403.70h1.5V414.44h-1.5zM499.00 403.70h1.5V414.44h-1.5zM501.45 403.70h1.5V414.12h-1.5zM503.90 403.70h1.5V413.89h-1.5zM506.35 403.70h1.5V414.20h-1.5zM508.80 403.70h1.5V414.44h-1.5zM511.25 403.70h1.5V414.44h-1.5zM513.70 403.70h1.5V414.16h-1.5zM516.15 403.70h1.5V413.62h-1.5zM518.61 403.70h1.5V413.08h-1.5zM521.06 403.70h1.5V412.28h-1.5zM523.51 403.70h1.5V411.20h-1.5zM525.96 403.70h1.5V409.69h-1.5zM528.41 403.70h1.5V408.89h-1.5zM530.86 403.70h1.5V409.68h-1.5zM533.31 403.70h1.5V411.33h-1.5zM535.77 403.70h1.5V412.46h-1.5zM538.22 403.70h1.5V412.30h-1.5zM540.67 403.70h1.5V411.45h-1.5zM543.12 403.70h1.5V411.77h-1.5zM545.57 403.70h1.5V414.50h-1.5zM548.02 403.70h1.5V420.51h-1.5zM550.47 403.70h1.5V425.85h-1.5zM552.92 403.70h1.5V430.13h-1.5zM555.38 403.70h1.5V434.35h-1.5zM557.83 403.70h1.5V437.87h-1.5zM560.28 403.70h1.5V440.82h-1.5zM562.73 403.70h1.5V442.40h-1.5zM565.18 403.70h1.5V442.59h-1.5zM567.63 403.70h1.5V441.62h-1.5zM570.08 403.70h1.5V439.58h-1.5zM572.53 403.70h1.5V438.68h-1.5zM574.99 403.70h1.5V438.70h-1.5zM577.44 403.70h1.5V440.41h-1.5zM579.89 403.70h1.5V440.47h-1.5zM582.34 403.70h1.5V441.48h-1.5zM584.79 403.70h1.5V441.67h-1.5zM587.24 403.70h1.5V440.73h-1.5zM589.69 403.70h1.5V437.92h-1.5zM592.15 403.70h1.5V435.91h-1.5zM594.60 403.70h1.5V434.05h-1.5zM597.05 403.70h1.5V432.77h-1.5zM599.50 403.70h1.5V431.79h-1.5zM601.95 403.70h1.5V430.06h-1.5zM604.40 403.70h1.5V427.07h-1.5zM606.85 403.70h1.5V424.62h-1.5zM609.30 403.70h1.5V421.62h-1.5zM611.76 403.70h1.5V419.66h-1.5zM614.21 403.70h1.5V417.27h-1.5zM616.66 403.70h1.5V414.81h-1.5zM619.11 403.70h1.5V412.88h-1.5zM621.56 403.70h1.5V411.85h-1.5zM624.01 403.70h1.5V410.67h-1.5zM626.46 403.70h1.5V408.90h-1.5zM628.91 403.70h1.5V407.91h-1.5zM631.37 403.70h1.5V407.25h-1.5zM633.82 403.70h1.5V406.28h-1.5zM636.27 403.70h1.5V405.10h-1.5zM638.72 403.70h1.5V404.55h-1.5zM641.17 403.70h1.5V403.96h-1.5zM643.62 403.46h1.5V403.70h-1.5zM646.07 401.97h1.5V403.70h-1.5zM648.52 401.15h1.5V403.70h-1.5zM650.98 402.17h1.5V403.70h-1.5zM653.43 403.70h1.5V404.61h-1.5zM655.88 403.70h1.5V409.34h-1.5zM658.33 403.70h1.5V410.42h-1.5zM660.78 403.70h1.5V411.14h-1.5zM663.23 403.70h1.5V413.98h-1.5zM665.68 403.70h1.5V416.64h-1.5zM668.14 403.70h1.5V419.67h-1.5zM670.59 403.70h1.5V420.47h-1.5zM673.04 403.70h1.5V422.42h-1.5zM675.49 403.70h1.5V420.95h-1.5zM677.94 403.70h1.5V420.00h-1.5zM680.39 403.70h1.5V420.00h-1.5zM682.84 403.70h1.5V419.72h-1.5zM685.29 403.70h1.5V418.21h-1.5zM687.75 403.70h1.5V417.83h-1.5zM690.20 403.70h1.5V416.93h-1.5zM692.65 403.70h1.5V415.87h-1.5zM695.10 403.70h1.5V414.62h-1.5z" fill="#c2c2c2"/>
<polyline points="1.5,388.28 2.5,388.03 3.5,387.77 4.5,387.52 5.5,387.26 6.5,387.01 7.5,386.75 8.5,386.49 9.5,386.24 10.5,385.75 11.5,385.03 12.5,384.31 13.5,383.58 14.5,382.86 15.5,382.14 16.5,381.42 17.5,380.69 18.5,379.97 19.5,379.25 20.5,378.46 21.5,377.60 22.5,376.75 23.5,375.89 24.5,375.03 25.5,374.17 26.5,373.32 27.5,372.46 28.5,372.06 29.5,371.83 30.5,371.61 31.5,371.38 32.5,371.16 33.5,370.93 34.5,370.71 35.5,370.48 36.5,370.26 37.5,370.52 38.5,370.88 39.5,371.24 40.5,371.60 41.5,371.96 42.5,372.46 43.5,373.32 44.5,374.17 45.5,375.03 46.5,375.89 47.5,376.75 48.5,377.60 49.5,378.46 50.5,379.39 51.5,380.39 52.5,381.39 53.5,382.39 54.5,383.39 55.5,384.39 56.5,385.39 57.5,386.39 58.5,387.15 59.5,387.81 60.5,388.48 61.5,389.15 62.5,389.81 63.5,390.48 64.5,391.08 65.5,390.58 66.5,390.08 67.5,389.58 68.5,389.08 69.5,388.58 70.5,388.08 71.5,387.26 72.5,385.93 73.5,384.59 74.5,383.26 75.5,381.93 76.5,380.59 77.5,379.26 78.5,378.27 79.5,377.41 80.5,376.56 81.5,375.70 82.5,374.84 83.5,373.98 84.5,373.13 85.5,372.27 86.5,372.85 87.5,373.52 88.5,374.19 89.5,374.85 90.5,375.52 91.5,376.19 92.5,376.98 93.5,378.13 94.5,379.27 95.5,380.41 96.5,381.56 97.5,382.70 98.5,383.84 99.5,384.98 100.5,386.06 101.5,387.06 102.5,388.06 103.5,389.06 104.5,390.03 105.5,390.53 106.5,391.03 107.5,391.53 108.5,392.03 109.5,392.53 110.5,393.03 111.5,393.40 112.5,393.56 113.5,393.73 114.5,393.90 115.5,394.06 116.5,394.23 117.5,394.40 118.5,394.16 119.5,393.76 120.5,393.36 121.5,392.96 122.5,392.56 123.5,392.24 124.5,392.34 125.5,392.44 126.5,392.54 127.5,392.64 128.5,392.74 129.5,392.83 130.5,392.91 131.5,393.00 132.5,393.08 133.5,393.16 134.5,393.25 135.5,393.33 136.5,394.40 137.5,395.52 138.5,396.65 139.5,397.77 140.5,398.71 141.5,399.46 142.5,400.21 143.5,400.96 144.5,401.67 145.5,401.67 146.5,401.67 147.5,401.67 148.5,401.67 149.5,401.67 150.5,401.67 151.5,401.67 152.5,401.67 153.5,401.72 154.5,402.06 155.5,402.39 156.5,402.72 157.5,403.06 158.5,403.39 159.5,403.72 160.5,404.06 161.5,404.39 162.5,404.72 163.5,405.06 164.5,405.39 165.5,405.72 166.5,406.06 167.5,405.99 168.5,405.85 169.5,405.71 170.5,405.57 171.5,405.43 172.5,405.32 173.5,405.28 174.5,405.24 175.5,405.19 176.5,405.15 177.5,405.11 178.5,405.06 179.5,405.02 180.5,404.81 181.5,404.44 182.5,404.06 183.5,403.69 184.5,403.26 185.5,402.01 186.5,400.76 187.5,399.51 188.5,398.26 189.5,396.80 190.5,395.20 191.5,393.60 192.5,392.00 193.5,390.40 194.5,388.80 195.5,387.20 196.5,385.60 197.5,384.00 198.5,382.40 199.5,380.80 200.5,379.90 201.5,379.70 202.5,379.50 203.5,379.30 204.5,379.12 205.5,379.22 206.5,379.32 207.5,379.42 208.5,380.08 209.5,380.95 210.5,381.83 211.5,382.70 212.5,383.47 213.5,383.97 214.5,384.47 215.5,384.97 216.5,385.47 217.5,386.22 218.5,387.02 219.5,387.82 220.5,388.62 221.5,389.42 222.5,390.23 223.5,391.06 224.5,391.90 225.5,392.73 226.5,393.56 227.5,394.40 228.5,395.23 229.5,395.86 230.5,396.36 231.5,396.86 232.5,397.36 233.5,397.80 234.5,397.92 235.5,398.05 236.5,398.17 237.5,398.30 238.5,398.75 239.5,399.34 240.5,399.92 241.5,400.50 242.5,401.09 243.5,401.67 244.5,402.24 245.5,402.57 246.5,402.91 247.5,403.24 248.5,403.57 249.5,403.91 250.5,404.24 251.5,404.25 252.5,403.75 253.5,403.25 254.5,402.75 255.5,402.25 256.5,401.37 257.5,400.47 258.5,399.57 259.5,398.67 260.5,397.77 261.5,397.11 262.5,396.81 263.5,396.51 264.5,396.21 265.5,395.91 266.5,395.61 267.5,395.39 268.5,395.19 269.5,394.99 270.5,394.79 271.5,394.59 272.5,394.50 273.5,394.70 274.5,394.90 275.5,395.10 276.5,395.30 277.5,395.50 278.5,395.70 279.5,395.90 280.5,396.10 281.5,396.30 282.5,396.44 283.5,396.44 284.5,396.44 285.5,396.44 286.5,396.44 287.5,396.44 288.5,396.78 289.5,397.25 290.5,397.71 291.5,397.59 292.5,396.54 293.5,395.49 294.5,394.44 295.5,393.39 296.5,391.80 297.5,390.17 298.5,388.55 299.5,386.92 300.5,385.81 301.5,385.21 302.5,384.61 303.5,384.01 304.5,383.41 305.5,382.81 306.5,382.21 307.5,381.61 308.5,381.01 309.5,380.41 310.5,379.81 311.5,378.86 312.5,377.36 313.5,375.86 314.5,374.36 315.5,372.86 316.5,371.48 317.5,370.10 318.5,368.73 319.5,367.35 320.5,366.47 321.5,366.07 322.5,365.67 323.5,365.43 324.5,365.97 325.5,366.52 326.5,367.07 327.5,367.62 328.5,368.28 329.5,368.98 330.5,369.68 331.5,370.38 332.5,371.08 333.5,371.78 334.5,372.48 335.5,373.18 336.5,373.88 337.5,374.58 338.5,375.28 339.5,375.92 340.5,376.52 341.5,377.12 342.5,377.72 343.5,378.32 344.5,378.90 345.5,379.06 346.5,379.22 347.5,379.38 348.5,379.54 349.5,379.70 350.5,380.06 351.5,380.63 352.5,381.19 353.5,381.85 354.5,382.98 355.5,384.10 356.5,385.23 357.5,386.35 358.5,387.68 359.5,389.08 360.5,390.48 361.5,391.88 362.5,393.28 363.5,394.47 364.5,394.59 365.5,394.72 366.5,394.84 367.5,394.97 368.5,395.24 369.5,395.57 370.5,395.91 371.5,396.58 372.5,397.78 373.5,398.98 374.5,400.18 375.5,401.38 376.5,402.58 377.5,403.44 378.5,404.24 379.5,405.04 380.5,405.84 381.5,406.64 382.5,407.27 383.5,407.44 384.5,407.60 385.5,407.77 386.5,407.94 387.5,408.10 388.5,408.27 389.5,408.64 390.5,409.14 391.5,409.64 392.5,410.14 393.5,410.64 394.5,411.16 395.5,412.06 396.5,412.96 397.5,413.86 398.5,414.76 399.5,415.66 400.5,416.41 401.5,417.01 402.5,417.61 403.5,418.21 404.5,418.81 405.5,419.41 406.5,419.70 407.5,419.96 408.5,420.23 409.5,420.11 410.5,419.75 411.5,419.39 412.5,419.03 413.5,418.67 414.5,418.34 415.5,418.50 416.5,418.66 417.5,418.82 418.5,418.98 419.5,419.14 420.5,419.25 421.5,419.30 422.5,419.35 423.5,419.40 424.5,419.47 425.5,419.88 426.5,420.30 427.5,420.72 428.5,421.13 429.5,421.55 430.5,421.97 431.5,422.17 432.5,422.03 433.5,421.89 434.5,421.75 435.5,421.61 436.5,421.47 437.5,421.51 438.5,421.59 439.5,421.67 440.5,421.75 441.5,421.83 442.5,421.93 443.5,422.08 444.5,422.23 445.5,422.38 446.5,422.53 447.5,422.22 448.5,421.82 449.5,421.42 450.5,421.02 451.5,420.62 452.5,420.26 453.5,420.00 454.5,419.74 455.5,419.48 456.5,419.22 457.5,418.96 458.5,418.44 459.5,417.83 460.5,417.21 461.5,416.59 462.5,415.98 463.5,415.36 464.5,414.75 465.5,414.19 466.5,413.63 467.5,413.07 468.5,412.51 469.5,411.95 470.5,411.65 471.5,411.61 472.5,411.57 473.5,411.53 474.5,411.49 475.5,411.45 476.5,411.61 477.5,411.78 478.5,411.96 479.5,412.13 480.5,412.28 481.5,412.41 482.5,412.53 483.5,412.66 484.5,412.74 485.5,412.10 486.5,411.46 487.5,410.82 488.5,410.18 489.5,409.54 490.5,409.50 491.5,410.05 492.5,410.60 493.5,411.15 494.5,411.69 495.5,412.19 496.5,412.69 497.5,413.19 498.5,413.69 499.5,414.19 500.5,414.47 501.5,414.51 502.5,414.55 503.5,414.59 504.5,414.64 505.5,414.68 506.5,414.72 507.5,414.77 508.5,414.78 509.5,414.78 510.5,414.78 511.5,414.78 512.5,414.78 513.5,414.77 514.5,414.71 515.5,414.65 516.5,414.59 517.5,414.53 518.5,414.47 519.5,414.20 520.5,413.80 521.5,413.40 522.5,413.00 523.5,412.60 524.5,412.18 525.5,411.51 526.5,410.83 527.5,410.16 528.5,409.48 529.5,409.33 530.5,409.50 531.5,409.68 532.5,409.85 533.5,410.08 534.5,410.58 535.5,411.08 536.5,411.58 537.5,412.08 538.5,412.12 539.5,411.98 540.5,411.84 541.5,411.70 542.5,411.56 543.5,411.54 544.5,412.11 545.5,412.67 546.5,413.24 547.5,414.75 548.5,416.45 549.5,418.15 550.5,419.85 551.5,421.55 552.5,423.28 553.5,425.08 554.5,426.88 555.5,428.68 556.5,430.48 557.5,432.28 558.5,434.04 559.5,435.79 560.5,437.54 561.5,439.29 562.5,440.62 563.5,440.88 564.5,441.12 565.5,441.38 566.5,441.62 567.5,441.33 568.5,440.93 569.5,440.53 570.5,440.13 571.5,439.73 572.5,439.48 573.5,439.60 574.5,439.73 575.5,439.85 576.5,439.98 577.5,440.42 578.5,440.92 579.5,441.42 580.5,441.83 581.5,442.17 582.5,442.50 583.5,442.73 584.5,442.43 585.5,442.13 586.5,441.83 587.5,441.53 588.5,441.23 589.5,440.62 590.5,439.82 591.5,439.02 592.5,438.22 593.5,437.42 594.5,436.62 595.5,435.88 596.5,435.12 597.5,434.38 598.5,433.62 599.5,433.10 600.5,432.73 601.5,432.35 602.5,431.98 603.5,431.48 604.5,430.38 605.5,429.28 606.5,428.18 607.5,427.08 608.5,425.98 609.5,424.79 610.5,423.54 611.5,422.29 612.5,421.04 613.5,419.83 614.5,418.83 615.5,417.83 616.5,416.83 617.5,415.83 618.5,414.83 619.5,414.14 620.5,413.64 621.5,413.14 622.5,412.64 623.5,412.14 624.5,411.64 625.5,411.14 626.5,410.64 627.5,410.14 628.5,409.64 629.5,409.14 630.5,408.64 631.5,408.14 632.5,407.64 633.5,407.14 634.5,406.64 635.5,406.14 636.5,405.64 637.5,405.14 638.5,404.70 639.5,404.28 640.5,403.87 641.5,403.45 642.5,403.03 643.5,402.62 644.5,402.19 645.5,401.69 646.5,401.19 647.5,400.69 648.5,400.19 649.5,400.07 650.5,400.19 651.5,400.31 652.5,400.42 653.5,401.33 654.5,402.33 655.5,403.40 656.5,404.65 657.5,405.90 658.5,407.15 659.5,408.20 660.5,409.20 661.5,410.20 662.5,411.11 663.5,411.86 664.5,412.61 665.5,413.36 666.5,414.54 667.5,415.79 668.5,417.04 669.5,418.10 670.5,418.85 671.5,419.60 672.5,420.35 673.5,420.66 674.5,420.91 675.5,421.16 676.5,421.25 677.5,421.13 678.5,421.00 679.5,420.88 680.5,420.40 681.5,419.90 682.5,419.40 683.5,419.02 684.5,418.77 685.5,418.52 686.5,418.27 687.5,418.26 688.5,418.26 689.5,418.26 690.5,418.14 691.5,417.89 692.5,417.64 693.5,417.37 694.5,416.57 695.5,415.77 696.5,415.65" fill="none" stroke="#f03030" stroke-width="1"/>
<line x1="21.4" y1="171.2" x2="519.7" y2="48.2" stroke="#ff0c0c" stroke-width="1.6"/>
<line x1="21.4" y1="254" x2="519.7" y2="131" stroke="#ff0c0c" stroke-width="1.6"/>
<line x1="2" y1="60.6" x2="875" y2="60.6" stroke="#ff0c0c" stroke-width="1.4"/>
<line x1="2" y1="168.5" x2="875" y2="168.5" stroke="#ff0c0c" stroke-width="1.4"/>
<line x1="2" y1="338.55" x2="875" y2="338.55" stroke="#ff0c0c" stroke-width="1.4"/>
<line x1="2" y1="257.3" x2="875" y2="257.3" stroke="#c8c8c8" stroke-width="1"/>
<path d="M875.5 447.5H1.5V1.5H875.5" fill="none" stroke="#555" stroke-width="1"/>
<path d="M875.5 1V448" fill="none" stroke="#6a6a6a" stroke-width="1"/>
<rect x="2" y="358" width="873" height="1" fill="#bcbcbc"/>
<rect x="2" y="359" width="873" height="0.6" fill="#8a8a8a"/>
<rect x="2" y="359.6" width="873" height="1.1" fill="#4c4c4c"/>
<path d="M3.6 5.2h4.4l-2.2 2.6z" fill="#000"/>
<text x="11.1" y="9" fill="#1a1a1a" stroke="#1a1a1a" stroke-width="0.2" font-size="6.1" textLength="32.8" lengthAdjust="spacingAndGlyphs">EURUSD,H1</text>
<text x="4.7" y="368.3" fill="#1a1a1a" stroke="#1a1a1a" stroke-width="0.2" font-size="6.1" textLength="87.3" lengthAdjust="spacingAndGlyphs">MACD(14,22,3) -0.00024 -0.00028</text>
<text x="879" y="17.6" fill="#1a1a1a" stroke="#1a1a1a" stroke-width="0.22" font-size="6.6" textLength="16.8" lengthAdjust="spacingAndGlyphs">1.1700</text>
<text x="879" y="44.0" fill="#1a1a1a" stroke="#1a1a1a" stroke-width="0.22" font-size="6.6" textLength="16.8" lengthAdjust="spacingAndGlyphs">1.1680</text>
<text x="879" y="70.4" fill="#1a1a1a" stroke="#1a1a1a" stroke-width="0.22" font-size="6.6" textLength="16.8" lengthAdjust="spacingAndGlyphs">1.1660</text>
<text x="879" y="96.8" fill="#1a1a1a" stroke="#1a1a1a" stroke-width="0.22" font-size="6.6" textLength="16.8" lengthAdjust="spacingAndGlyphs">1.1640</text>
<text x="879" y="123.2" fill="#1a1a1a" stroke="#1a1a1a" stroke-width="0.22" font-size="6.6" textLength="16.8" lengthAdjust="spacingAndGlyphs">1.1620</text>
<text x="879" y="149.6" fill="#1a1a1a" stroke="#1a1a1a" stroke-width="0.22" font-size="6.6" textLength="16.8" lengthAdjust="spacingAndGlyphs">1.1600</text>
<text x="879" y="176.0" fill="#1a1a1a" stroke="#1a1a1a" stroke-width="0.22" font-size="6.6" textLength="16.8" lengthAdjust="spacingAndGlyphs">1.1580</text>
<text x="879" y="202.4" fill="#1a1a1a" stroke="#1a1a1a" stroke-width="0.22" font-size="6.6" textLength="16.8" lengthAdjust="spacingAndGlyphs">1.1560</text>
<text x="879" y="228.8" fill="#1a1a1a" stroke="#1a1a1a" stroke-width="0.22" font-size="6.6" textLength="16.8" lengthAdjust="spacingAndGlyphs">1.1540</text>
<text x="879" y="255.2" fill="#1a1a1a" stroke="#1a1a1a" stroke-width="0.22" font-size="6.6" textLength="16.8" lengthAdjust="spacingAndGlyphs">1.1520</text>
<text x="879" y="281.6" fill="#1a1a1a" stroke="#1a1a1a" stroke-width="0.22" font-size="6.6" textLength="16.8" lengthAdjust="spacingAndGlyphs">1.1500</text>
<text x="879" y="308.0" fill="#1a1a1a" stroke="#1a1a1a" stroke-width="0.22" font-size="6.6" textLength="16.8" lengthAdjust="spacingAndGlyphs">1.1480</text>
<text x="879" y="334.4" fill="#1a1a1a" stroke="#1a1a1a" stroke-width="0.22" font-size="6.6" textLength="16.8" lengthAdjust="spacingAndGlyphs">1.1460</text>
<text x="879" y="354.2" fill="#1a1a1a" stroke="#1a1a1a" stroke-width="0.22" font-size="6.6" textLength="16.8" lengthAdjust="spacingAndGlyphs">1.1445</text>
<text x="877.6" y="366.7" fill="#1a1a1a" stroke="#1a1a1a" stroke-width="0.2" font-size="6.1" textLength="19.5" lengthAdjust="spacingAndGlyphs">0.00098</text>
<text x="877.6" y="406.4" fill="#1a1a1a" stroke="#1a1a1a" stroke-width="0.2" font-size="6.1" textLength="10.5" lengthAdjust="spacingAndGlyphs">0.00</text>
<text x="877" y="445.8" fill="#1a1a1a" stroke="#1a1a1a" stroke-width="0.2" font-size="6.1" textLength="21.5" lengthAdjust="spacingAndGlyphs">-0.00098</text>
<path d="M875 15.2h2M875 41.6h2M875 68.0h2M875 94.4h2M875 120.8h2M875 147.2h2M875 173.6h2M875 200.0h2M875 226.4h2M875 252.8h2M875 279.2h2M875 305.6h2M875 332.0h2M875 351.8h2M875 364.3h2M875 404.0h2M875 443.4h2" stroke="#202020" stroke-width="0.8"/>
<rect x="876" y="57.1" width="22" height="7" fill="#ff0000"/>
<text x="879" y="63.0" fill="#fff" stroke="#fff" stroke-width="0.12" font-size="6.6" textLength="16.8" lengthAdjust="spacingAndGlyphs">1.1666</text>
<rect x="876" y="165.0" width="22" height="7" fill="#ff0000"/>
<text x="879" y="170.9" fill="#fff" stroke="#fff" stroke-width="0.12" font-size="6.6" textLength="16.8" lengthAdjust="spacingAndGlyphs">1.1584</text>
<rect x="876" y="335.1" width="22" height="7" fill="#ff0000"/>
<text x="879" y="341.0" fill="#fff" stroke="#fff" stroke-width="0.12" font-size="6.6" textLength="16.8" lengthAdjust="spacingAndGlyphs">1.1455</text>
<rect x="876" y="253.9" width="22" height="7" fill="#000000"/>
<text x="879" y="259.8" fill="#fff" stroke="#fff" stroke-width="0.12" font-size="6.6" textLength="16.8" lengthAdjust="spacingAndGlyphs">1.1517</text>
<text x="1" y="455.6" fill="#1a1a1a" stroke="#1a1a1a" stroke-width="0.2" font-size="6.1" textLength="30" lengthAdjust="spacingAndGlyphs">6 Nov 2025</text>
<text x="40.8" y="455.6" fill="#1a1a1a" stroke="#1a1a1a" stroke-width="0.2" font-size="6.1" textLength="31.4" lengthAdjust="spacingAndGlyphs">7 Nov 02:00</text>
<text x="80.0" y="455.6" fill="#1a1a1a" stroke="#1a1a1a" stroke-width="0.2" font-size="6.1" textLength="31.4" lengthAdjust="spacingAndGlyphs">7 Nov 18:00</text>
<text x="119.2" y="455.6" fill="#1a1a1a" stroke="#1a1a1a" stroke-width="0.2" font-size="6.1" textLength="35.4" lengthAdjust="spacingAndGlyphs">10 Nov 10:00</text>
<text x="158.4" y="455.6" fill="#1a1a1a" stroke="#1a1a1a" stroke-width="0.2" font-size="6.1" textLength="35.4" lengthAdjust="spacingAndGlyphs">11 Nov 02:00</text>
<text x="197.6" y="455.6" fill="#1a1a1a" stroke="#1a1a1a" stroke-width="0.2" font-size="6.1" textLength="35.4" lengthAdjust="spacingAndGlyphs">11 Nov 18:00</text>
<text x="236.9" y="455.6" fill="#1a1a1a" stroke="#1a1a1a" stroke-width="0.2" font-size="6.1" textLength="35.4" lengthAdjust="spacingAndGlyphs">12 Nov 10:00</text>
<text x="276.1" y="455.6" fill="#1a1a1a" stroke="#1a1a1a" stroke-width="0.2" font-size="6.1" textLength="35.4" lengthAdjust="spacingAndGlyphs">13 Nov 02:00</text>
<text x="315.3" y="455.6" fill="#1a1a1a" stroke="#1a1a1a" stroke-width="0.2" font-size="6.1" textLength="35.4" lengthAdjust="spacingAndGlyphs">13 Nov 18:00</text>
<text x="354.5" y="455.6" fill="#1a1a1a" stroke="#1a1a1a" stroke-width="0.2" font-size="6.1" textLength="35.4" lengthAdjust="spacingAndGlyphs">14 Nov 10:00</text>
<text x="393.7" y="455.6" fill="#1a1a1a" stroke="#1a1a1a" stroke-width="0.2" font-size="6.1" textLength="35.4" lengthAdjust="spacingAndGlyphs">17 Nov 02:00</text>
<text x="433.0" y="455.6" fill="#1a1a1a" stroke="#1a1a1a" stroke-width="0.2" font-size="6.1" textLength="35.4" lengthAdjust="spacingAndGlyphs">17 Nov 18:00</text>
<text x="472.2" y="455.6" fill="#1a1a1a" stroke="#1a1a1a" stroke-width="0.2" font-size="6.1" textLength="35.4" lengthAdjust="spacingAndGlyphs">18 Nov 10:00</text>
<text x="511.4" y="455.6" fill="#1a1a1a" stroke="#1a1a1a" stroke-width="0.2" font-size="6.1" textLength="35.4" lengthAdjust="spacingAndGlyphs">19 Nov 02:00</text>
<text x="550.6" y="455.6" fill="#1a1a1a" stroke="#1a1a1a" stroke-width="0.2" font-size="6.1" textLength="35.4" lengthAdjust="spacingAndGlyphs">19 Nov 18:00</text>
<text x="589.8" y="455.6" fill="#1a1a1a" stroke="#1a1a1a" stroke-width="0.2" font-size="6.1" textLength="35.4" lengthAdjust="spacingAndGlyphs">20 Nov 10:00</text>
<text x="629.1" y="455.6" fill="#1a1a1a" stroke="#1a1a1a" stroke-width="0.2" font-size="6.1" textLength="35.4" lengthAdjust="spacingAndGlyphs">21 Nov 02:00</text>
<text x="668.3" y="455.6" fill="#1a1a1a" stroke="#1a1a1a" stroke-width="0.2" font-size="6.1" textLength="35.4" lengthAdjust="spacingAndGlyphs">21 Nov 18:00</text>
<path d="M1.6 448v2.5M41.4 448v2.5M80.6 448v2.5M119.8 448v2.5M159.0 448v2.5M198.2 448v2.5M237.5 448v2.5M276.7 448v2.5M315.9 448v2.5M355.1 448v2.5M394.3 448v2.5M433.6 448v2.5M472.8 448v2.5M512.0 448v2.5M551.2 448v2.5M590.4 448v2.5M629.7 448v2.5M668.9 448v2.5" stroke="#202020" stroke-width="0.8"/>
</svg></body></html>
